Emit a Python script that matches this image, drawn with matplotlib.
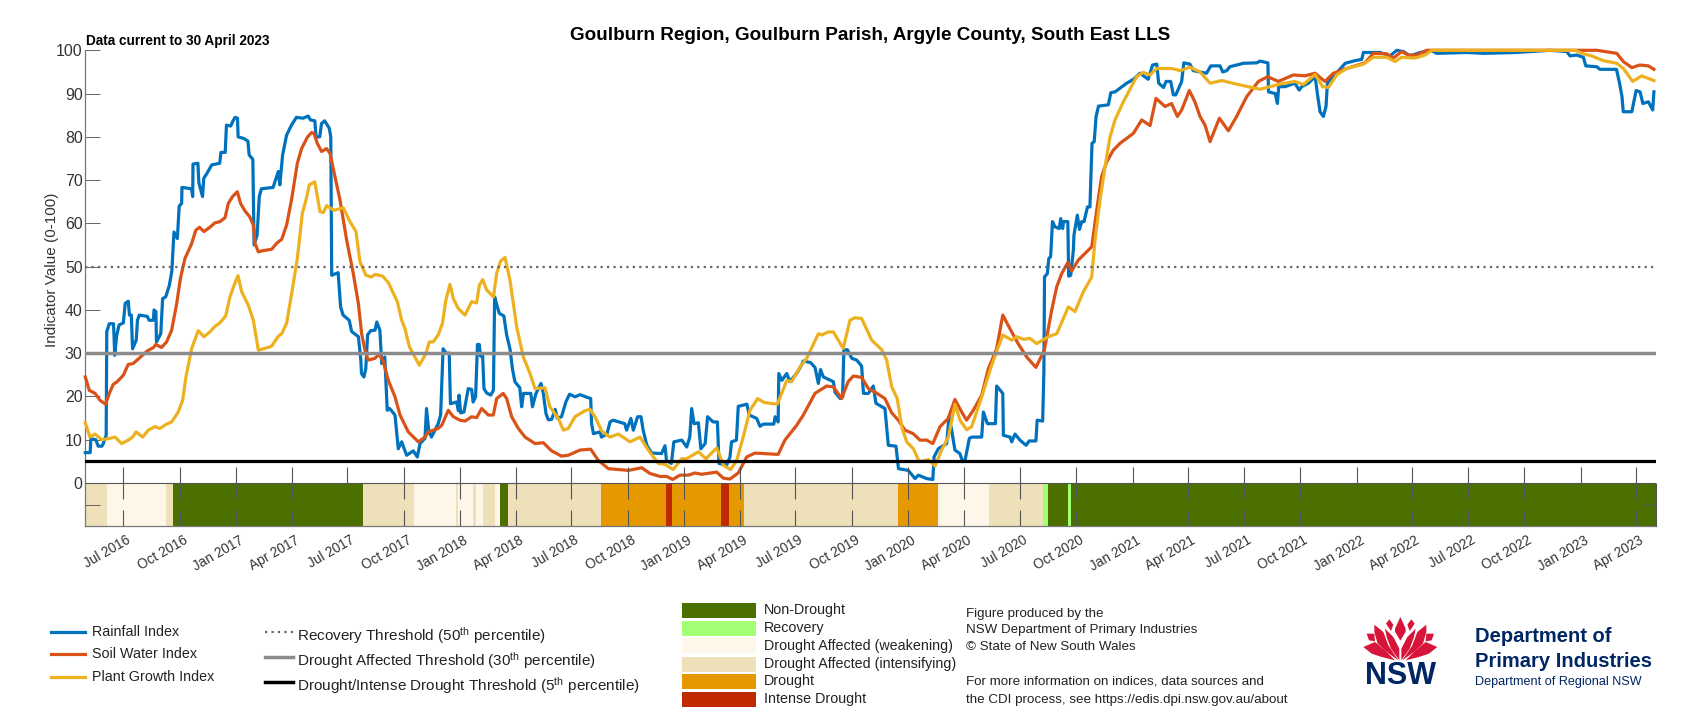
import datetime as dt
import numpy as np
import matplotlib
matplotlib.use("Agg")
import matplotlib.pyplot as plt
from matplotlib.lines import Line2D
from matplotlib.patches import Polygon, Rectangle
from matplotlib.transforms import ScaledTranslation

plt.rcParams['font.family'] = ['Liberation Sans', 'DejaVu Sans']
plt.rcParams['mathtext.fontset'] = 'custom'
plt.rcParams['mathtext.rm'] = 'Liberation Sans'
plt.rcParams['mathtext.default'] = 'rm'

# Index series: days since 30 April 2016 and index value
rain_days = [0,8,9,17,21,27,29,34,35,39,46,48,51,55,62,65,70,72,75,77,83,85,88,101,104,111,112,115,116,123,126,131,137,141,144.5,150,153,157,157.5,173,175,175.5,183.5,185,191,193,198,206,219,221,228,230,237,240,244,248,249,258.5,265,267,273,275,280,283.5,287,306,314.5,317,321.5,328,336,344,355,363,367,374,376,382,385,390,397.5,400,401.5,412,416,420,430,434,445,449,450,454,457,460,465,472,475,480,483,488,492,496,504.6,510,515.5,523.6,534.5,541,545.4,553.5,556,559.5,564,575,579,583,588,593,595,605,608,609,611.6,617,624,629.6,632,636,639,642,644,647.5,649.6,654,660.5,665,667,671.4,674.6,682,686.6,692,696,700,708,711,714,726,728.6,734.4,742.5,746,750.7,754.5,760,765.6,769,776,783,789,798,806,820,823.5,825,828,839,841,850,855,860,879,882,889,893,900,905.5,909,915,923,939,944.6,947,955,959,972,980,985,988,992,999,1003,1010,1014,1023,1030,1032.6,1045,1050.5,1053,1061,1064,1078,1082,1094,1099.4,1105,1122,1124,1129,1130,1135,1143,1148,1159,1167,1170,1182,1189,1194.5,1198,1202.6,1219,1221.6,1230,1234,1236,1241.7,1249,1257,1265,1268,1276,1284,1288.4,1303,1308.5,1321,1325,1341,1352,1357.4,1371,1381,1383,1390,1403.6,1407.4,1411.7,1417,1425,1429.7,1433.5,1440.5,1444.4,1460.6,1463.4,1470,1483,1485,1495,1496,1507,1509.5,1515,1523,1533,1538,1549,1551,1560,1562,1563,1567.6,1570,1573,1576,1580,1587,1589.4,1592.6,1594,1601,1602.4,1605.7,1610,1611,1616.5,1620,1623.6,1627.4,1633,1637,1640.4,1644,1647,1651,1667,1671,1678,1697,1708,1718.6,1732,1739,1746,1749,1757,1761,1768.6,1773,1777,1786.5,1790,1800,1805.5,1827,1834,1849,1853.4,1860,1865,1887,1909,1914,1927,1928,1939,1942.5,1944.6,1955,1971,1978,1982,1993,2004,2007.6,2012,2017.4,2021.7,2024,2036,2053,2069,2080,2082.6,2110,2126,2137,2148,2158.6,2175,2194,2202,2251,2278,2332.5,2354,2387,2414,2419.4,2430,2441,2445,2463,2468,2495,2500,2504,2506,2520,2527,2533.4,2538,2547,2551,2554,2556]
rain_vals = [7,7,10.2,10,8.5,8.5,9,11,35,36.8,36.8,29.5,34,36.5,37,41.5,42,38.8,38.8,31,33,37.6,38.8,38.5,37.6,37.6,40,39.6,32.6,34.5,42.6,43,45.7,49,58,56.5,64,64.6,68.3,68,66.2,73.7,73.9,69.4,66.2,70.4,71.5,73.5,73.9,76.4,76.4,82.7,82.5,83.5,84.5,84.3,80,79.6,79,75.8,74.8,55,57.3,66.2,68,68.3,72,68.9,75.8,80.4,82.7,84.5,84.3,84.8,83.9,83.7,80,80,83.1,83.7,82,80,48,48.6,40.7,38.8,37.6,35,33.8,28.4,25.3,24.5,26.4,34.2,35.2,35.3,37.2,35.3,27.6,29.1,16.8,17.2,15.7,7.9,9.5,6.4,7.4,6,9.1,10.3,17.2,12.2,10.6,13.7,15.7,31,30,30,18.3,18.7,16.7,20.3,16.2,16.4,21.8,21.6,18.7,19.9,32,32,29.3,29.3,21.8,20.8,20.3,21.4,43,40.7,39.2,38.6,34.2,31,26.4,23.4,22,17.6,20.7,20.7,17.6,20.7,23,21,16,14.6,14.7,17,15,15.3,18.7,20.5,19.9,20.4,19.7,19.5,13.7,11.4,11.8,10.6,11.3,14.1,14.5,13.7,12.2,14.9,12.2,15.3,15.3,12.2,8.7,6.9,6.8,8.6,5.2,4.5,9.5,9.9,8.3,10.6,17.2,13.7,13.9,7.9,9.1,15.3,14.1,14.1,4.5,4.1,6,9.5,9.9,17.7,18.2,15.7,14.9,13.1,13.6,13.6,15.3,14.1,25.3,23.7,25.3,23.4,25.3,27.2,28.2,27.8,26.7,23,26.2,24.5,23.4,21,19.5,19.9,30.7,30.8,28.8,28.4,27,20.7,20.7,22.4,18.4,17.2,8.7,8.5,3.3,2.9,1,1.8,1,0.8,6,7.9,9.1,15.3,12.2,7.6,6.8,4.9,5.2,10.3,10.6,10.6,16.4,13.7,13.7,22.4,20.7,11,10.6,9.5,11.3,9.9,8.7,9.7,9.7,14.5,14.3,26,47.6,48.4,51.9,52.3,60.4,59.2,58.8,61.1,58.8,60.4,60.4,47.8,48,53.8,57.3,61.9,58.6,60.4,60.4,63.8,63.8,78.5,78.9,84.7,87.1,87.4,90.2,90.4,92.4,93.3,94.7,93.3,96.6,96.8,92.4,91.4,92.8,92.8,89.7,89.7,92.8,97.1,96.8,95.3,94.7,96.4,96.4,95,95.3,96.2,97,97.1,97.5,97.1,90.4,90,87.7,91.6,91.6,92.4,90.8,91.6,92.4,93.9,90,85.8,84.7,87,92.4,94.3,97,97.6,97.9,99.5,99.5,98.7,100,99.7,98.7,99.5,99.9,99.3,99.5,99.3,99.5,99.7,100,99.7,98.7,98.9,98.4,96.4,96.2,95.6,95.6,92.4,89.3,85.8,85.8,90.7,90.4,87.7,88.1,87,86.2,90.4]

soil_days = [0,6.5,16,24,33,40,45.6,52,62,70,78,89,101,111,115,124,132.5,140.7,149,155,162.4,173,180,186,193.4,203,211,219.4,227.6,233,240,247.7,253,260,268,273.8,276.5,282,290,303.6,311.8,320,328,336,345.5,352.5,361.8,368.8,372.6,378,385,393,398.7,406.8,415,425.9,436.7,444.9,450.3,455.7,461,472,479,485.6,493.8,504.6,512.8,526.3,542.6,553.5,559,575,580.7,591.5,599.7,610.5,618.7,629.5,637.7,645.8,656.7,664.9,670.3,681,686.6,694.7,705.6,716.5,732.8,746.3,759.9,776,787,806,823.5,836,852.3,884.9,906.6,920,936.5,947.3,957,969,982.6,993.5,1004,1028.8,1039.7,1050.5,1064,1077.7,1091,1129,1140,1159,1170,1189,1208,1219,1232.5,1243,1251.5,1265,1276,1286.8,1303,1314,1324.8,1335.7,1349,1360,1371,1381,1392.7,1406,1417,1428,1436,1447,1460.6,1471.5,1485,1495,1509.5,1520,1534,1549,1562.7,1574.7,1582.8,1591,1600.8,1607.3,1618,1640,1648,1656,1664.3,1675,1686,1707.8,1721.4,1735,1744.7,1759.4,1770,1779.5,1786.5,1799,1808,1816.4,1824.6,1832.7,1848,1862.6,1876,1892.5,1911.5,1926.7,1944,1968.5,1987.5,2003.8,2020,2033.7,2055.4,2085,2099,2120.6,2131.5,2145,2156,2169.5,2185.8,2430,2463,2476.4,2495.4,2506.2,2520,2533,2547,2556]
soil_vals = [24.5,21.4,20.7,19.1,18.2,21,22.8,23.4,24.9,27.4,27.6,29,30.5,31.3,32,31.3,32.6,35.3,41.5,47.3,51.9,55.2,58.4,59.1,58.1,59.1,60.1,60.4,61.3,64.6,66.2,67.3,64.6,62.9,61.5,59.6,55.4,53.4,53.7,54,55.4,56.3,59.6,65.4,73.9,77.3,79.9,81,80.8,78.5,76.6,77.3,76.2,70.8,65.4,56.1,48.4,41.5,34.5,30.7,28.4,28.8,29.8,28,23.7,19.9,15.7,11.8,9.5,10.6,11.8,12.6,13.3,16.8,15.3,14.5,14.3,15.3,15.1,17.2,15.7,15.7,19.5,20.7,19.5,15.3,12.6,10.6,9.1,9.3,7.4,6.2,6.4,7.6,7.8,5.2,3.3,2.9,3.5,2.2,1.5,1.5,0.8,1.8,1.8,2.3,2,2.5,1.1,0.9,2.3,6,6.9,6.6,9.9,13.3,15.7,20.7,22.4,22.2,19.5,23.4,24.7,24.4,21.8,21,19.5,16.2,14.5,12.2,11.4,9.9,9.9,9.1,13,14.9,19.3,16.4,14.5,16.8,20.3,26.4,31,38.8,34.9,32.2,29.1,26.7,30.7,39.9,45.3,48.4,50.9,49,51.5,54.6,63,70.8,74.2,76.9,78.5,80.8,83.9,82.6,88.9,87,87.7,84.7,86.2,90.7,88.1,84.7,82.7,78.9,84.3,81.4,84.7,89.3,92.8,93.9,92.8,94.3,94.1,94.7,92.8,94.7,95.8,97.1,99.3,99.2,98.2,99.7,98.9,98.9,100,100,100,99.7,99.3,97.4,96,96.6,96.4,95.6]

plant_days = [0,7.6,15.8,26.6,40,48.3,59.2,70,77,82.6,93.4,102.7,113.5,121.7,132.5,140.7,151.5,158.6,164,173.3,184,193.4,203,211.3,219.4,228.7,235.7,242,248.8,254.8,265.6,273.8,282,292.8,303.6,314.5,320,328,336.3,345.5,353.6,359.6,365,374,382.4,387.8,393.3,405,420.4,431.3,441,447.6,457.4,466.6,472,484.5,493.8,508.4,515.5,520.9,528,544.3,555,560.6,567,575,582,587.6,594.2,599.7,607.8,618.7,624,629.5,637.7,642,647.5,654,665,670.3,676.8,683.9,692,702.9,713.7,724.6,732.8,749,757,770.8,778.9,787,797.9,806,814.2,822.4,830.5,841.4,855,868.6,887.6,903.9,917.4,933.7,944.6,958,971.8,979.9,999,1011.4,1028.8,1039.7,1051.6,1061.4,1072,1083,1095.6,1106,1127.7,1143,1151,1164.6,1175.5,1194.5,1200,1210.8,1219,1235,1246,1254,1265,1281.4,1297.7,1305.8,1314,1323,1330.3,1338.4,1349.3,1359,1373.7,1384.6,1395.4,1406.3,1417.2,1425.3,1436.2,1444.3,1460.6,1476.9,1495,1509.7,1517.7,1528.5,1539.4,1550.2,1569.3,1583,1601.9,1612.7,1626.3,1639.9,1645.3,1653.5,1661.6,1669.8,1677.9,1691.5,1713,1724,1735,1745.8,1770.2,1783.8,1800,1816.4,1832.7,1851.7,1881.6,1914,1930.5,1946.8,1971,1984.8,2003.8,2016.3,2025.5,2039,2055.4,2082.6,2098.9,2120.6,2134.2,2145,2166.8,2183,2194,2427.5,2438.4,2454.6,2473.7,2495.4,2506.2,2521.5,2536,2547,2556]
plant_vals = [13.9,10.6,11.3,10,10.3,10.6,9.1,9.9,10.6,11.8,10.6,12.2,13,12.6,13.6,14.1,16.4,19.1,24.5,31.1,35.2,33.8,34.9,36.2,37,38.6,43,45.5,47.9,44.2,41.1,37.6,30.7,31.1,31.6,33.9,34.5,36.9,43.8,51.9,62.3,65.4,68.9,69.6,62.7,62.5,64.1,63,63.6,60.4,58.1,51.1,48,47.6,48.2,47.8,46.3,41.9,37.6,35.7,31.5,27.2,29.9,32.6,32.6,34.2,36.9,42.3,45.9,42.6,40.3,38.8,40.3,41.9,41.6,45.7,47,44.6,43,48.4,51.3,52.1,46.9,36.1,29.1,25.3,21.8,22,17.6,14.9,12.2,12.6,15.3,16,16.7,17,15.3,12,10.6,11.3,9.5,10.6,7.6,4.5,4.3,3.1,5.6,5.6,7.2,5.6,8.1,4.1,3.1,5.2,10.6,16.8,19.5,18.6,18.2,23.7,23.4,26.8,28.8,34.5,34.2,34.9,34.9,31.1,37.6,38.2,38,33,30.8,28.4,22.2,19.5,13,9.5,7.9,4.9,5.4,3.9,7.6,10.6,18.2,14.5,12.3,13,19.9,27.2,34.2,33,33.8,33.2,33.4,32.2,33.8,34.5,40.7,39.6,44.2,47.6,56.1,65.4,73.1,80,83.9,88.1,93.9,94.9,94.3,95.8,95.8,95.3,96.1,95,92.4,93,92,91,91.6,92.2,92.8,92.1,94.4,91.6,91.4,94.3,95.8,96.8,98.4,98.4,97.4,98.4,98.2,98.9,100,100,99.3,98.7,97.6,97,95.8,92.8,94.1,93.5,93]

# Drought category spans along the time axis
band_edges = [0,35,131,143,452,535.6,604,607,632,636.6,648.6,667.6,675.7,688.8,840.3,947,956,1035.9,1048.9,1073.3,1324.3,1389.5,1472.6,1560.6,1568.7,1601.3,1606.2,2559.4]
band_classes = [3,2,3,0,3,2,3,2,3,2,3,2,0,3,4,5,4,5,4,3,4,2,3,1,0,1,0]

class_names = ['Non-Drought','Recovery','Drought Affected (weakening)','Drought Affected (intensifying)','Drought','Intense Drought']
class_colours = ['#4C7000','#A3FF73','#FFF6EA','#EEE1BA','#E69800','#BF2A00']

series_names = ['Rainfall Index','Soil Water Index','Plant Growth Index']
series_colours = ['#0072BD','#D95319','#EDB120']
threshold_values = [50,30,5]
threshold_names = ['Recovery Threshold (50$^{th}$ percentile)','Drought Affected Threshold (30$^{th}$ percentile)','Drought/Intense Drought Threshold (5$^{th}$ percentile)']

W, H = 1707, 720
START = dt.date(2016,4,30)
tick_dates = [dt.date(y,m,1) for y in range(2016,2024) for m in (1,4,7,10)
              if dt.date(2016,7,1) <= dt.date(y,m,1) <= dt.date(2023,4,1)]
tick_days = [(d-START).days for d in tick_dates]
tick_labels = [d.strftime('%b %Y') for d in tick_dates]

fig = plt.figure(figsize=(W/100,H/100),dpi=100,facecolor='white')
L,R,T,B = 85.3,1656.0,50.3,526.2
ax = fig.add_axes([L/W,1-B/H,(R-L)/W,(B-T)/H])
ax.set_xlim(0,2559.4)
ax.set_ylim(-10,100)

def fx(x): return x/W
def fy(y): return 1-y/H

# category strip under the indices
for a,b,c in zip(band_edges[:-1],band_edges[1:],band_classes):
    ax.broken_barh([(a,b-a)],(-10,10),facecolor=class_colours[c],edgecolor='none',zorder=1)

# thresholds
DOTS = (0,(1,1.9))
ax.axhline(threshold_values[0],color='#666666',lw=1.6,ls=DOTS,zorder=5)
ax.axhline(threshold_values[1],color='#8C8C8C',lw=2.5,zorder=5)
ax.axhline(threshold_values[2],color='#000000',lw=2.3,zorder=5)
ax.axhline(0,color='#555555',lw=0.8,zorder=4)

# indices
for d,v,c in zip((rain_days,soil_days,plant_days),(rain_vals,soil_vals,plant_vals),series_colours):
    ax.plot(d,v,color=c,lw=2.3,solid_joinstyle='round',clip_on=False,zorder=3)

# month ticks, broken across the middle of the strip
ax.vlines(tick_days,-3.6,3.7,color='#555555',lw=0.8,zorder=4)
ax.vlines(tick_days,-10,-6.2,color='#555555',lw=0.8,zorder=4)

ax.set_xticks(tick_days)
ax.set_xticklabels(tick_labels,rotation=30,ha='right',rotation_mode='anchor',fontsize=9.8,color='#333333')
ax.tick_params(axis='x',length=0,pad=5)
for t in ax.get_xticklabels():
    t.set_transform(t.get_transform()+ScaledTranslation(3/100,0,fig.dpi_scale_trans))
ax.set_yticks([-5]+list(range(0,101,10)))
ax.set_yticklabels(['']+[str(i) for i in range(0,101,10)],fontsize=11.4,color='#333333')
ax.tick_params(axis='y',direction='in',length=11,width=0.7,color='#666666',pad=2)
for s in ('top','right'):
    ax.spines[s].set_visible(False)
for s in ('left','bottom'):
    ax.spines[s].set_color('#777777')
    ax.spines[s].set_linewidth(0.9)
ax.vlines(2559.4,-10,0,color='#555555',lw=0.8,clip_on=False,zorder=4)
ax.hlines(-5,2559.4-22,2559.4,color='#555555',lw=0.8,zorder=4)

fig.text(fx(52),fy(270),'Indicator Value (0-100)',rotation=90,fontsize=11,color='#333333',ha='center',va='center')
fig.text(fx(870),fy(36),'Goulburn Region, Goulburn Parish, Argyle County, South East LLS',fontsize=13.6,fontweight='bold',ha='center',va='center')
fig.text(fx(85.5),fy(40.5),'Data current to 30 April 2023',fontsize=9.8,fontweight='bold',ha='left',va='center')

# index and threshold keys
TXT = '#222222'
for y,n,c in zip((631.5,654,677),series_names,series_colours):
    fig.add_artist(Line2D([fx(51),fx(85)],[fy(y)]*2,color=c,lw=2.3))
    fig.text(fx(91.5),fy(y),n,fontsize=10.3,color=TXT,va='center')
th_styles = [dict(color='#666666',lw=1.6,ls=DOTS),dict(color='#8C8C8C',lw=2.5),dict(color='#000000',lw=2.5)]
for y,n,st in zip((632,657,682),threshold_names,th_styles):
    fig.add_artist(Line2D([fx(264.5),fx(293)],[fy(y)]*2,**st))
    fig.text(fx(297),fy(y+4),n,fontsize=11,color=TXT,va='center')

# category keys
for y,n,c in zip((610,628,645.6,664,681.5,699),class_names,class_colours):
    fig.add_artist(Rectangle((fx(681.5),fy(y+7.5)),74/W,15/H,transform=fig.transFigure,facecolor=c,edgecolor='none'))
    fig.text(fx(764),fy(y),n,fontsize=10.3,color=TXT,va='center')

for y,n in zip((614,629.5,646.5,681.5,700),('Figure produced by the','NSW Department of Primary Industries','\u00a9 State of New South Wales','For more information on indices, data sources and','the CDI process, see https://edis.dpi.nsw.gov.au/about')):
    fig.text(fx(965.7),fy(y),n,fontsize=9.6,color=TXT,va='center')

# waratah emblem and department name
logo = fig.add_axes([1340/W,1-710/H,340/W,110/H])
logo.set_xlim(0,1020); logo.set_ylim(330,0); logo.axis('off')
RED,NAVY = '#D7153A','#002664'
centre = [(181,51),(197,86),(197,95),(181,122),(165,95),(165,86)]
side = [[(148,58),(160,74),(153,93),(138,71)],
        [(80,101),(103,101),(105,124),(87,121)],
        [(70,141),(105,126),(135,151),(165,181),(125,171),(95,161)],
        [(103,74),(130,96),(145,136),(175,181),(140,156),(113,131),(103,96)],
        [(135,86),(160,111),(178,146),(178,181),(153,146),(140,111)]]
logo.add_patch(Polygon(centre,facecolor=RED,edgecolor='none'))
for p in side:
    logo.add_patch(Polygon(p,facecolor=RED,edgecolor='none'))
    logo.add_patch(Polygon([(362-x,y) for x,y in p],facecolor=RED,edgecolor='none'))
logo.text(181,228,'NSW',fontsize=22,fontweight='bold',color=NAVY,ha='center',va='center')
logo.text(405,110,'Department of',fontsize=14.5,fontweight='bold',color=NAVY,va='center')
logo.text(405,185,'Primary Industries',fontsize=14.5,fontweight='bold',color=NAVY,va='center')
logo.text(405,247,'Department of Regional NSW',fontsize=9.1,color=NAVY,va='center')

assert len(rain_days)==len(rain_vals) and len(soil_days)==len(soil_vals) and len(plant_days)==len(plant_vals)
fig.savefig('out.png',dpi=100,facecolor='white')
